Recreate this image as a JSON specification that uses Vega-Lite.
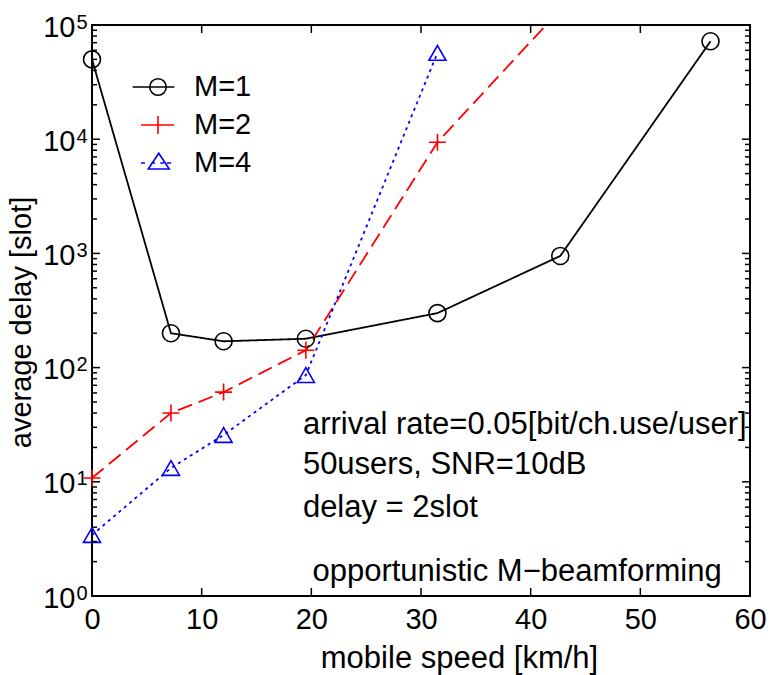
{
  "$schema": "https://vega.github.io/schema/vega-lite/v6.json",
  "width": 658,
  "height": 571,
  "autosize": {"type": "none"},
  "padding": {"left": 92, "top": 25, "right": 19, "bottom": 79},
  "background": "white",
  "config": {
    "view": {"stroke": "black", "strokeWidth": 2},
    "font": "Liberation Sans",
    "axis": {
      "domain": false,
      "grid": false,
      "ticks": false,
      "tickSize": 0,
      "labelFont": "Liberation Sans",
      "labelFontSize": 29,
      "labelColor": "black",
      "titleFont": "Liberation Sans",
      "titleFontSize": 29,
      "titleFontWeight": "normal",
      "titleColor": "black"
    },
    "legend": {
      "orient": "none",
      "legendX": 50,
      "legendY": 46,
      "padding": 0,
      "symbolSize": 900,
      "symbolStrokeWidth": 1.6,
      "labelFont": "Liberation Sans",
      "labelFontSize": 29,
      "labelColor": "black",
      "labelOffset": 20,
      "rowPadding": 7
    }
  },
  "datasets": {
    "series": [
      {"M": "M=1", "speed": 0, "delay": 50000},
      {"M": "M=1", "speed": 7.2, "delay": 200},
      {"M": "M=1", "speed": 12, "delay": 170},
      {"M": "M=1", "speed": 19.5, "delay": 179},
      {"M": "M=1", "speed": 31.5, "delay": 300},
      {"M": "M=1", "speed": 42.7, "delay": 950},
      {"M": "M=1", "speed": 56.4, "delay": 72000},
      {"M": "M=2", "speed": 0, "delay": 10.8},
      {"M": "M=2", "speed": 7.2, "delay": 40},
      {"M": "M=2", "speed": 12, "delay": 61},
      {"M": "M=2", "speed": 19.5, "delay": 142},
      {"M": "M=2", "speed": 31.5, "delay": 9400},
      {"M": "M=2", "speed": 42.7, "delay": 136000},
      {"M": "M=4", "speed": 0, "delay": 3.42},
      {"M": "M=4", "speed": 7.2, "delay": 13.2},
      {"M": "M=4", "speed": 12, "delay": 25.7},
      {"M": "M=4", "speed": 19.5, "delay": 86},
      {"M": "M=4", "speed": 31.5, "delay": 57000}
    ],
    "notes": [
      {"text": "arrival rate=0.05[bit/ch.use/user]", "speed": 19.23, "delay": 26.2},
      {"text": "50users, SNR=10dB", "speed": 19.23, "delay": 11.7},
      {"text": "delay = 2slot", "speed": 19.23, "delay": 4.92},
      {"text": "opportunistic M−beamforming", "speed": 20.1, "delay": 1.35}
    ],
    "yticks": [
      {"v": 10, "kind": "major", "edge": 0}, {"v": 100, "kind": "major", "edge": 0}, {"v": 1000, "kind": "major", "edge": 0}, {"v": 10000, "kind": "major", "edge": 0},
      {"v": 2, "kind": "minor", "edge": 0}, {"v": 3, "kind": "minor", "edge": 0}, {"v": 4, "kind": "minor", "edge": 0}, {"v": 5, "kind": "minor", "edge": 0}, {"v": 6, "kind": "minor", "edge": 0}, {"v": 7, "kind": "minor", "edge": 0}, {"v": 8, "kind": "minor", "edge": 0}, {"v": 9, "kind": "minor", "edge": 0},
      {"v": 20, "kind": "minor", "edge": 0}, {"v": 30, "kind": "minor", "edge": 0}, {"v": 40, "kind": "minor", "edge": 0}, {"v": 50, "kind": "minor", "edge": 0}, {"v": 60, "kind": "minor", "edge": 0}, {"v": 70, "kind": "minor", "edge": 0}, {"v": 80, "kind": "minor", "edge": 0}, {"v": 90, "kind": "minor", "edge": 0},
      {"v": 200, "kind": "minor", "edge": 0}, {"v": 300, "kind": "minor", "edge": 0}, {"v": 400, "kind": "minor", "edge": 0}, {"v": 500, "kind": "minor", "edge": 0}, {"v": 600, "kind": "minor", "edge": 0}, {"v": 700, "kind": "minor", "edge": 0}, {"v": 800, "kind": "minor", "edge": 0}, {"v": 900, "kind": "minor", "edge": 0},
      {"v": 2000, "kind": "minor", "edge": 0}, {"v": 3000, "kind": "minor", "edge": 0}, {"v": 4000, "kind": "minor", "edge": 0}, {"v": 5000, "kind": "minor", "edge": 0}, {"v": 6000, "kind": "minor", "edge": 0}, {"v": 7000, "kind": "minor", "edge": 0}, {"v": 8000, "kind": "minor", "edge": 0}, {"v": 9000, "kind": "minor", "edge": 0},
      {"v": 20000, "kind": "minor", "edge": 0}, {"v": 30000, "kind": "minor", "edge": 0}, {"v": 40000, "kind": "minor", "edge": 0}, {"v": 50000, "kind": "minor", "edge": 0}, {"v": 60000, "kind": "minor", "edge": 0}, {"v": 70000, "kind": "minor", "edge": 0}, {"v": 80000, "kind": "minor", "edge": 0}, {"v": 90000, "kind": "minor", "edge": 0},
      {"v": 10, "kind": "major", "edge": 60}, {"v": 100, "kind": "major", "edge": 60}, {"v": 1000, "kind": "major", "edge": 60}, {"v": 10000, "kind": "major", "edge": 60},
      {"v": 2, "kind": "minor", "edge": 60}, {"v": 3, "kind": "minor", "edge": 60}, {"v": 4, "kind": "minor", "edge": 60}, {"v": 5, "kind": "minor", "edge": 60}, {"v": 6, "kind": "minor", "edge": 60}, {"v": 7, "kind": "minor", "edge": 60}, {"v": 8, "kind": "minor", "edge": 60}, {"v": 9, "kind": "minor", "edge": 60},
      {"v": 20, "kind": "minor", "edge": 60}, {"v": 30, "kind": "minor", "edge": 60}, {"v": 40, "kind": "minor", "edge": 60}, {"v": 50, "kind": "minor", "edge": 60}, {"v": 60, "kind": "minor", "edge": 60}, {"v": 70, "kind": "minor", "edge": 60}, {"v": 80, "kind": "minor", "edge": 60}, {"v": 90, "kind": "minor", "edge": 60},
      {"v": 200, "kind": "minor", "edge": 60}, {"v": 300, "kind": "minor", "edge": 60}, {"v": 400, "kind": "minor", "edge": 60}, {"v": 500, "kind": "minor", "edge": 60}, {"v": 600, "kind": "minor", "edge": 60}, {"v": 700, "kind": "minor", "edge": 60}, {"v": 800, "kind": "minor", "edge": 60}, {"v": 900, "kind": "minor", "edge": 60},
      {"v": 2000, "kind": "minor", "edge": 60}, {"v": 3000, "kind": "minor", "edge": 60}, {"v": 4000, "kind": "minor", "edge": 60}, {"v": 5000, "kind": "minor", "edge": 60}, {"v": 6000, "kind": "minor", "edge": 60}, {"v": 7000, "kind": "minor", "edge": 60}, {"v": 8000, "kind": "minor", "edge": 60}, {"v": 9000, "kind": "minor", "edge": 60},
      {"v": 20000, "kind": "minor", "edge": 60}, {"v": 30000, "kind": "minor", "edge": 60}, {"v": 40000, "kind": "minor", "edge": 60}, {"v": 50000, "kind": "minor", "edge": 60}, {"v": 60000, "kind": "minor", "edge": 60}, {"v": 70000, "kind": "minor", "edge": 60}, {"v": 80000, "kind": "minor", "edge": 60}, {"v": 90000, "kind": "minor", "edge": 60}
    ],
    "xticks": [
      {"v": 10, "edge": 1}, {"v": 20, "edge": 1}, {"v": 30, "edge": 1}, {"v": 40, "edge": 1}, {"v": 50, "edge": 1},
      {"v": 10, "edge": 100000}, {"v": 20, "edge": 100000}, {"v": 30, "edge": 100000}, {"v": 40, "edge": 100000}, {"v": 50, "edge": 100000}
    ]
  },
  "resolve": {
    "axis": {"x": "independent", "y": "independent"},
    "scale": {"color": "independent", "shape": "independent"},
    "legend": {"color": "independent", "shape": "independent"}
  },
  "layer": [
    {
      "data": {"name": "series"},
      "mark": {"type": "line", "clip": true, "strokeWidth": 1.8},
      "encoding": {
        "x": {
          "field": "speed", "type": "quantitative",
          "scale": {"domain": [0, 60], "nice": false, "zero": false},
          "axis": {"orient": "bottom", "values": [0, 10, 20, 30, 40, 50, 60], "labelPadding": 9, "labelFlush": false, "title": "mobile speed [km/h]", "titlePadding": 9, "titleFontSize": 31, "titleX": 367}
        },
        "y": {
          "field": "delay", "type": "quantitative",
          "scale": {"type": "log", "domain": [1, 100000], "nice": false},
          "axis": {
            "orient": "left",
            "values": [1, 10, 100, 1000, 10000, 100000],
            "labelExpr": "'10'",
            "labelPadding": 17,
            "labelOffset": 2,
            "labelBaseline": "middle",
            "title": "average delay [slot]",
            "titlePadding": 6,
            "titleY": 297
          }
        },
        "color": {
          "field": "M", "type": "nominal",
          "scale": {"domain": ["M=1", "M=2", "M=4"], "range": ["#000000", "#ff0000", "#0000ff"]},
          "legend": null
        },
        "strokeDash": {
          "field": "M", "type": "nominal",
          "scale": {"domain": ["M=1", "M=2", "M=4"], "range": [[1, 0], [15, 7], [3, 4]]},
          "legend": null
        },
        "order": {"field": "speed", "type": "quantitative"}
      }
    },
    {
      "data": {"name": "series"},
      "transform": [{"filter": "datum.delay <= 100000"}],
      "mark": {"type": "point", "clip": false, "filled": false, "strokeWidth": 1.6, "size": 289, "opacity": 1},
      "encoding": {
        "x": {"field": "speed", "type": "quantitative", "axis": null},
        "y": {
          "field": "delay", "type": "quantitative",
          "axis": {
            "orient": "left",
            "values": [1, 10, 100, 1000, 10000, 100000],
            "labelExpr": "datum.value === 1 ? '0' : datum.value === 10 ? '1' : datum.value === 100 ? '2' : datum.value === 1000 ? '3' : datum.value === 10000 ? '4' : '5'",
            "labelFontSize": 20,
            "labelPadding": 5,
            "labelOffset": -3,
            "labelBaseline": "middle",
            "title": null
          }
        },
        "color": {
          "field": "M", "type": "nominal",
          "scale": {"domain": ["M=1", "M=2", "M=4"], "range": ["#000000", "#ff0000", "#0000ff"]},
          "legend": null
        },
        "shape": {
          "field": "M", "type": "nominal",
          "scale": {"domain": ["M=1", "M=2", "M=4"], "range": ["circle", "M-1,0H1M0,-1V1", "triangle-up"]},
          "legend": null
        }
      }
    },
    {
      "data": {"name": "series"},
      "transform": [{"filter": "datum.delay < 0"}],
      "mark": {"type": "point", "filled": false, "strokeWidth": 1.6, "size": 900, "opacity": 1},
      "encoding": {
        "x": {"field": "speed", "type": "quantitative", "axis": null},
        "y": {"field": "delay", "type": "quantitative", "axis": null},
        "color": {
          "field": "M", "type": "nominal", "title": null,
          "scale": {"domain": ["M=1", "M=2", "M=4"], "range": ["#000000", "#ff0000", "#0000ff"]}
        },
        "shape": {
          "field": "M", "type": "nominal", "title": null,
          "scale": {"domain": ["M=1", "M=2", "M=4"], "range": [
            "M-1.69,0H1.09M0.55,0A0.55,0.55 0 1 1 -0.55,0A0.55,0.55 0 1 1 0.55,0",
            "M-1.13,0H1.07M0,-0.6V0.6",
            "M-1.13,0H-0.87M-0.45,0H-0.2M0.15,0H0.4M0.6,0H0.87M0.05,-0.65L0.75,0.4L-0.65,0.4Z"
          ]}
        }
      }
    },
    {
      "data": {"name": "notes"},
      "mark": {"type": "text", "align": "left", "baseline": "alphabetic", "font": "Liberation Sans", "fontSize": 31, "color": "black"},
      "encoding": {
        "x": {"field": "speed", "type": "quantitative", "axis": null},
        "y": {"field": "delay", "type": "quantitative", "axis": null},
        "text": {"field": "text", "type": "nominal"}
      }
    },
    {
      "data": {"name": "yticks"},
      "mark": {"type": "point", "clip": true, "shape": "M-1,0H1", "filled": false, "color": "black", "strokeWidth": 1.5, "opacity": 1},
      "encoding": {
        "x": {"field": "edge", "type": "quantitative", "axis": null},
        "y": {"field": "v", "type": "quantitative", "axis": null},
        "size": {"field": "kind", "type": "ordinal", "scale": {"domain": ["major", "minor"], "range": [256, 100]}, "legend": null}
      }
    },
    {
      "data": {"name": "xticks"},
      "mark": {"type": "point", "clip": true, "shape": "M0,-1V1", "filled": false, "color": "black", "strokeWidth": 1.5, "size": 256, "opacity": 1},
      "encoding": {
        "x": {"field": "v", "type": "quantitative", "axis": null},
        "y": {"field": "edge", "type": "quantitative", "axis": null}
      }
    }
  ]
}
